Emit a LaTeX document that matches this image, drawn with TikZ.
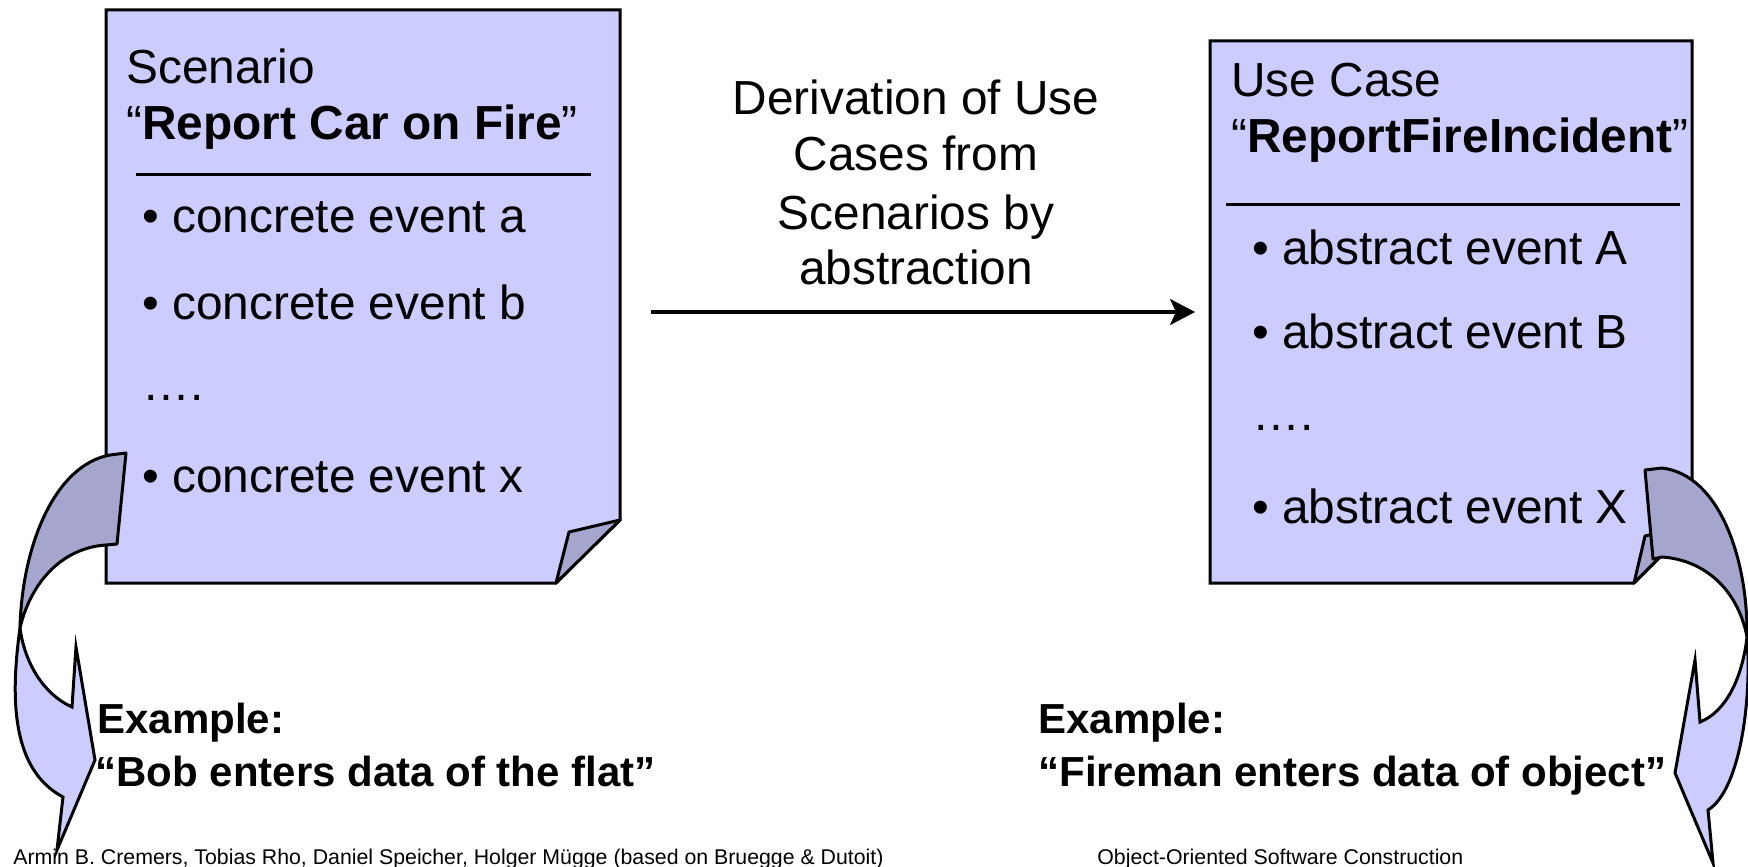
\documentclass[tikz,border=0pt]{standalone}
\usepackage{fontspec}
\setmainfont{Liberation Sans}
\usetikzlibrary{arrows.meta}

\definecolor{docfill}{RGB}{204,204,255}
\definecolor{docshade}{RGB}{165,165,205}

\tikzset{
  docshape/.style={draw=black, line width=1.5pt, fill=docfill, line join=miter},
  foldshape/.style={draw=black, line width=1.5pt, fill=docshade, line join=round},
  backpart/.style={draw=black, line width=1.5pt, fill=docshade, line join=round},
  frontpart/.style={draw=black, line width=1.5pt, fill=docfill, line join=miter},
  sepline/.style={draw=black, line width=1.5pt},
  flowarrow/.style={draw=black, line width=1.6pt, -{Stealth[length=12.5pt,width=13pt,inset=3pt]}},
  bigtext/.style={inner sep=0pt, anchor=base west, font=\fontsize{23.9pt}{28pt}\selectfont},
  midtext/.style={inner sep=0pt, anchor=base, font=\fontsize{23.9pt}{28pt}\selectfont},
  extext/.style={inner sep=0pt, anchor=base west, font=\fontsize{21pt}{25pt}\selectfont\bfseries},
  foottext/.style={inner sep=0pt, anchor=base west, font=\fontsize{10.65pt}{13pt}\selectfont},
}

\begin{document}
\begin{tikzpicture}[x=0.5pt,y=-0.5pt]
  \useasboundingbox (0,0) rectangle (1748,866);
  \fill[white] (0,0) rectangle (1748,866);

  % scenario sheet with dog-eared corner
  \draw[docshape] (106,10) -- (620,10) -- (620,520) -- (556,583) -- (106,583) -- cycle;
  \draw[foldshape] (620,520) -- (569,532) -- (556,583) -- cycle;

  % use case sheet with dog-eared corner
  \draw[docshape] (1210,41) -- (1692,41) -- (1692,525) -- (1634,583) -- (1210,583) -- cycle;
  \draw[foldshape] (1692,525) -- (1645,536) -- (1634,583) -- cycle;

  % scenario contents
  \node[bigtext] (scTitle) at (126,84) {Scenario};
  \node[bigtext] (scName) at (126,140) {“\textbf{Report Car on Fire}”};
  \draw[sepline] (136,175) -- (591,175);
  \node[bigtext] (scA) at (142,233) {\textbullet\ concrete event a};
  \node[bigtext] (scB) at (142,319) {\textbullet\ concrete event b};
  \node[bigtext] (scDots) at (142,400) {….};
  \node[bigtext] (scX) at (142,492) {\textbullet\ concrete event x};

  % use case contents
  \node[bigtext] (ucTitle) at (1231,97) {Use Case};
  \node[bigtext] (ucName) at (1231,153) {“\textbf{ReportFireIncident}”};
  \draw[sepline] (1226,205) -- (1680,205);
  \node[bigtext] (ucA) at (1252,264) {\textbullet\ abstract event A};
  \node[bigtext] (ucB) at (1252,348) {\textbullet\ abstract event B};
  \node[bigtext] (ucDots) at (1252,430) {….};
  \node[bigtext] (ucX) at (1252,523) {\textbullet\ abstract event X};

  % derivation label and arrow
  \node[midtext] (der1) at (916,115) {Derivation of Use};
  \node[midtext] (der2) at (916,171) {Cases from};
  \node[midtext] (der3) at (916,229) {Scenarios by};
  \node[midtext] (der4) at (916,284) {abstraction};
  \coordinate (derivStart) at (651,312);
  \coordinate (derivEnd) at (1195,312);
  \draw[flowarrow] (derivStart) -- (derivEnd);

  % left curved arrow: back half
  \draw[backpart] (110,455) -- (126,453) -- (117,544) -- (106,545)
    .. controls (60,548) and (30,585) .. (20,628)
    .. controls (22,545) and (55,465) .. (110,455) -- cycle;
  % left curved arrow: front half with head
  \draw[frontpart] (20,628) .. controls (25,665) and (45,695) .. (72,707)
    -- (76,647) -- (95,760) -- (57,850) -- (63,797)
    .. controls (12,770) and (10,700) .. (20,628) -- cycle;

  % right curved arrow: back half
  \draw[backpart] (1645,470) -- (1662,468)
    .. controls (1720,475) and (1748,560) .. (1747,637)
    .. controls (1738,590) and (1705,560) .. (1662,557)
    -- (1653,559) -- cycle;
  % right curved arrow: front half with head
  \draw[frontpart] (1747,637) .. controls (1742,680) and (1725,712) .. (1700,722)
    -- (1695,660) -- (1675,773) -- (1713,863) -- (1708,810)
    .. controls (1740,790) and (1752,700) .. (1747,637) -- cycle;

  % examples
  \node[extext] (exL1) at (97,733) {Example:};
  \node[extext] (exL2) at (95,786) {“Bob enters data of the flat”};
  \node[extext] (exR1) at (1038,733) {Example:};
  \node[extext] (exR2) at (1038,786) {“Fireman enters data of object”};

  % footer
  \node[foottext] (footL) at (13,864) {Armin B. Cremers, Tobias Rho, Daniel Speicher, Holger Mügge (based on Bruegge \& Dutoit)};
  \node[foottext] (footR) at (1097,864) {Object-Oriented Software Construction};
\end{tikzpicture}
\end{document}
